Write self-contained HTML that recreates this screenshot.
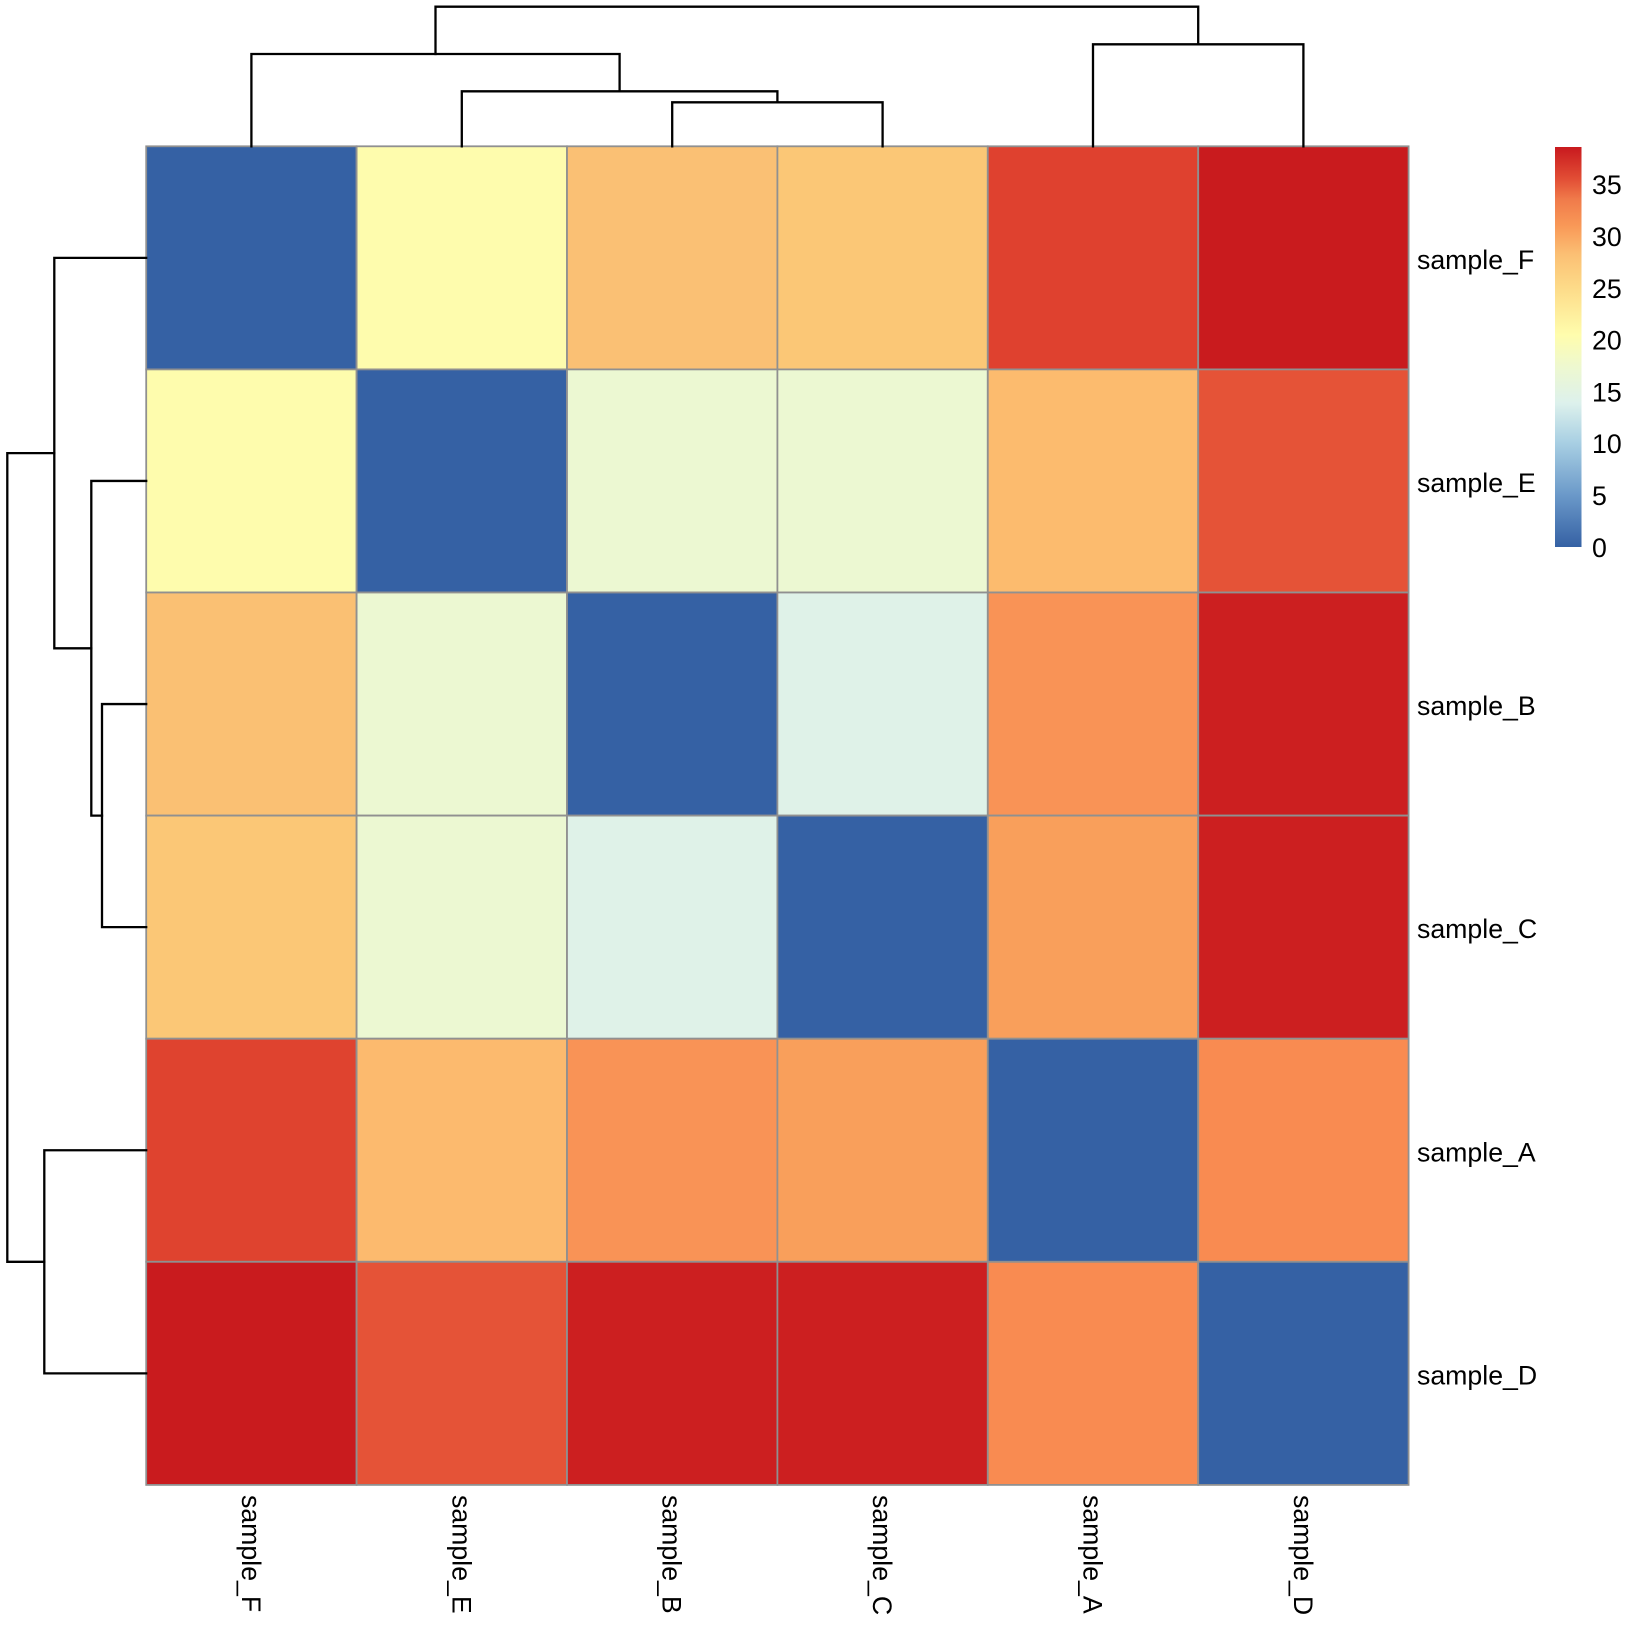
<!DOCTYPE html>
<html>
<head>
<meta charset="utf-8">
<style>
  html, body { margin: 0; padding: 0; background: #ffffff; }
  svg { display: block; }
  text { font-family: "Liberation Sans", Arial, sans-serif; font-size: 26.7px; fill: #000; }
</style>
</head>
<body>
<svg width="1632" height="1632" viewBox="0 0 1632 1632" xmlns="http://www.w3.org/2000/svg">
  <defs>
    <linearGradient id="cb" x1="0" y1="1" x2="0" y2="0">
      <stop offset="0" stop-color="#3561A4"/>
      <stop offset="0.13" stop-color="#6B99C9"/>
      <stop offset="0.26" stop-color="#A8CFE3"/>
      <stop offset="0.36" stop-color="#DDF1EC"/>
      <stop offset="0.45" stop-color="#EEF8D0"/>
      <stop offset="0.53" stop-color="#FFFDAD"/>
      <stop offset="0.65" stop-color="#FDDA88"/>
      <stop offset="0.73" stop-color="#FBC074"/>
      <stop offset="0.80" stop-color="#F99A58"/>
      <stop offset="0.87" stop-color="#F07A4A"/>
      <stop offset="0.92" stop-color="#E24E35"/>
      <stop offset="1" stop-color="#C8191E"/>
    </linearGradient>
  </defs>

  <!-- Heatmap cells -->
  <g stroke="#909090" stroke-width="1.8">
    <!-- Row F -->
    <rect x="146.2" y="146.3" width="210.4" height="223.1" fill="#3561A4"/>
    <rect x="356.6" y="146.3" width="210.4" height="223.1" fill="#FEFCAD"/>
    <rect x="567.0" y="146.3" width="210.4" height="223.1" fill="#FAC074"/>
    <rect x="777.4" y="146.3" width="210.4" height="223.1" fill="#FBC776"/>
    <rect x="987.8" y="146.3" width="210.4" height="223.1" fill="#DF412F"/>
    <rect x="1198.2" y="146.3" width="210.4" height="223.1" fill="#C91B1E"/>
    <!-- Row E -->
    <rect x="146.2" y="369.4" width="210.4" height="223.1" fill="#FEFCAD"/>
    <rect x="356.6" y="369.4" width="210.4" height="223.1" fill="#3561A4"/>
    <rect x="567.0" y="369.4" width="210.4" height="223.1" fill="#ECF8D2"/>
    <rect x="777.4" y="369.4" width="210.4" height="223.1" fill="#ECF8D2"/>
    <rect x="987.8" y="369.4" width="210.4" height="223.1" fill="#FCBB6E"/>
    <rect x="1198.2" y="369.4" width="210.4" height="223.1" fill="#E55337"/>
    <!-- Row B -->
    <rect x="146.2" y="592.5" width="210.4" height="223.1" fill="#FAC073"/>
    <rect x="356.6" y="592.5" width="210.4" height="223.1" fill="#ECF8D2"/>
    <rect x="567.0" y="592.5" width="210.4" height="223.1" fill="#3561A4"/>
    <rect x="777.4" y="592.5" width="210.4" height="223.1" fill="#DFF2E8"/>
    <rect x="987.8" y="592.5" width="210.4" height="223.1" fill="#F99356"/>
    <rect x="1198.2" y="592.5" width="210.4" height="223.1" fill="#CC1F20"/>
    <!-- Row C -->
    <rect x="146.2" y="815.6" width="210.4" height="223.1" fill="#FBC776"/>
    <rect x="356.6" y="815.6" width="210.4" height="223.1" fill="#ECF8D2"/>
    <rect x="567.0" y="815.6" width="210.4" height="223.1" fill="#DFF2E8"/>
    <rect x="777.4" y="815.6" width="210.4" height="223.1" fill="#3561A4"/>
    <rect x="987.8" y="815.6" width="210.4" height="223.1" fill="#F99F5B"/>
    <rect x="1198.2" y="815.6" width="210.4" height="223.1" fill="#CC1F20"/>
    <!-- Row A -->
    <rect x="146.2" y="1038.7" width="210.4" height="223.1" fill="#DF432F"/>
    <rect x="356.6" y="1038.7" width="210.4" height="223.1" fill="#FCBA6E"/>
    <rect x="567.0" y="1038.7" width="210.4" height="223.1" fill="#F99356"/>
    <rect x="777.4" y="1038.7" width="210.4" height="223.1" fill="#F99F5B"/>
    <rect x="987.8" y="1038.7" width="210.4" height="223.1" fill="#3561A4"/>
    <rect x="1198.2" y="1038.7" width="210.4" height="223.1" fill="#F98B51"/>
    <!-- Row D -->
    <rect x="146.2" y="1261.8" width="210.4" height="223.1" fill="#C91B1E"/>
    <rect x="356.6" y="1261.8" width="210.4" height="223.1" fill="#E55337"/>
    <rect x="567.0" y="1261.8" width="210.4" height="223.1" fill="#CC1F20"/>
    <rect x="777.4" y="1261.8" width="210.4" height="223.1" fill="#CC1F20"/>
    <rect x="987.8" y="1261.8" width="210.4" height="223.1" fill="#F98B51"/>
    <rect x="1198.2" y="1261.8" width="210.4" height="223.1" fill="#3561A4"/>
  </g>

  <!-- Top dendrogram -->
  <g fill="none" stroke="#000" stroke-width="2.3" stroke-linecap="square" stroke-linejoin="miter">
    <path d="M672.2,146.3 V102.3 H882.6 V146.3"/>
    <path d="M461.8,146.3 V91.3 H777.4 V102.3"/>
    <path d="M251.4,146.3 V54 H619.6 V91.3"/>
    <path d="M1093.0,146.3 V44.3 H1303.4 V146.3"/>
    <path d="M435.5,54 V6.7 H1198.2 V44.3"/>
  </g>

  <!-- Left dendrogram -->
  <g fill="none" stroke="#000" stroke-width="2.3" stroke-linecap="square" stroke-linejoin="miter">
    <path d="M146.2,704.05 H102 V927.15 H146.2"/>
    <path d="M146.2,480.95 H91.3 V815.6 H102"/>
    <path d="M146.2,257.85 H54.3 V648.3 H91.3"/>
    <path d="M146.2,1150.25 H44.3 V1373.35 H146.2"/>
    <path d="M54.3,453.1 H7.3 V1261.8 H44.3"/>
  </g>

  <!-- Row labels -->
  <text x="1417" y="268.9">sample_F</text>
  <text x="1417" y="492.0">sample_E</text>
  <text x="1417" y="715.1">sample_B</text>
  <text x="1417" y="938.2">sample_C</text>
  <text x="1417" y="1161.3">sample_A</text>
  <text x="1417" y="1384.4">sample_D</text>

  <!-- Column labels (rotated) -->
  <text transform="translate(241.9,1495) rotate(90)">sample_F</text>
  <text transform="translate(452.3,1495) rotate(90)">sample_E</text>
  <text transform="translate(662.7,1495) rotate(90)">sample_B</text>
  <text transform="translate(873.1,1495) rotate(90)">sample_C</text>
  <text transform="translate(1083.5,1495) rotate(90)">sample_A</text>
  <text transform="translate(1293.9,1495) rotate(90)">sample_D</text>

  <!-- Colour bar -->
  <rect x="1555" y="147" width="26.5" height="400" fill="url(#cb)"/>
  <text x="1592" y="194.2">35</text>
  <text x="1592" y="246.0">30</text>
  <text x="1592" y="297.8">25</text>
  <text x="1592" y="349.6">20</text>
  <text x="1592" y="401.4">15</text>
  <text x="1592" y="453.2">10</text>
  <text x="1592" y="505.0">5</text>
  <text x="1592" y="556.8">0</text>
</svg>
</body>
</html>
